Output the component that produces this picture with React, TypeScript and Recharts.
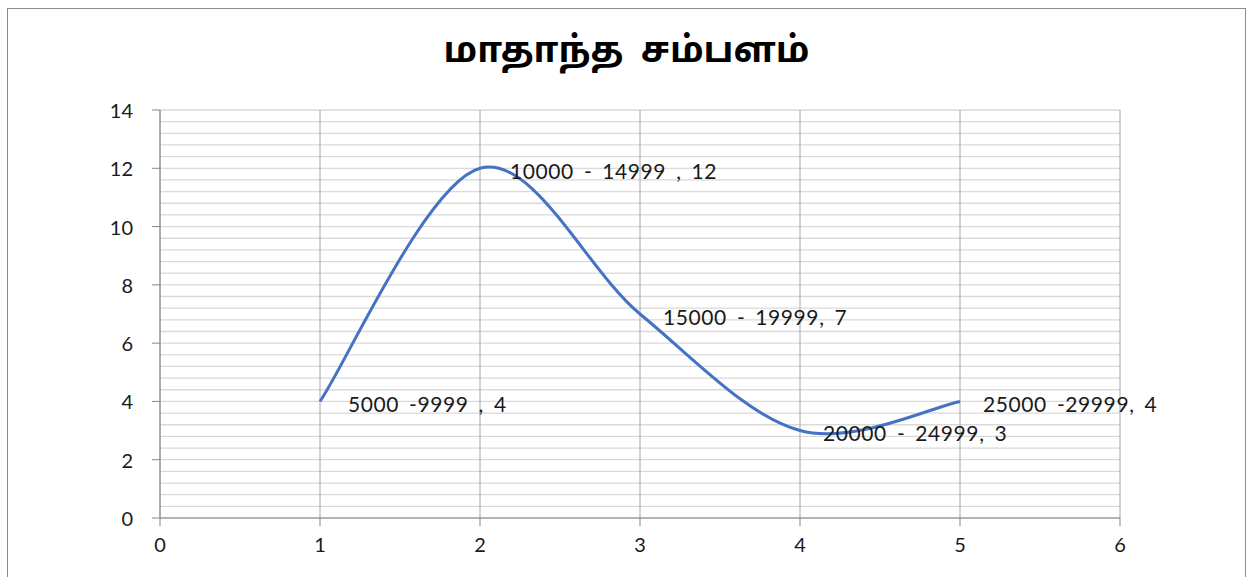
import { CartesianGrid, LabelList, Line, LineChart, XAxis, YAxis } from 'recharts'

// salary bands (labels) and number of people in each band
const bands = ['5000 -9999 ', '10000 - 14999 ', '15000 - 19999', '20000 - 24999', '25000 -29999']
const xs = [1, 2, 3, 4, 5]
const counts = [4, 12, 7, 3, 4]

const xTicks = [0, 1, 2, 3, 4, 5, 6]
const yTicks = [0, 2, 4, 6, 8, 10, 12, 14]
const minorTicks = [
  0, 0.4, 0.8, 1.2, 1.6, 2, 2.4, 2.8, 3.2, 3.6, 4, 4.4, 4.8, 5.2, 5.6, 6, 6.4, 6.8, 7.2, 7.6, 8, 8.4,
  8.8, 9.2, 9.6, 10, 10.4, 10.8, 11.2, 11.6, 12, 12.4, 12.8, 13.2, 13.6, 14,
]

const data = xs.map((x, i) => ({ x, count: counts[i], band: bands[i] }))

const font = 'Lato, "Open Sans", sans-serif'

// label offsets to the right of each point
const labelDx = [28, 30, 23, 23, 23]

// excel-style smoothed line (catmull-rom through the points)
const excelCurve = (context: any) => {
  let pts: number[][] = []
  return {
    areaStart() {},
    areaEnd() {},
    lineStart() {
      pts = []
    },
    point(x: number, y: number) {
      pts.push([+x, +y])
    },
    lineEnd() {
      const n = pts.length
      if (!n) return
      context.moveTo(pts[0][0], pts[0][1])
      for (let i = 0; i < n - 1; i++) {
        const p0 = pts[Math.max(i - 1, 0)]
        const p1 = pts[i]
        const p2 = pts[i + 1]
        const p3 = pts[Math.min(i + 2, n - 1)]
        context.bezierCurveTo(
          p1[0] + (p2[0] - p0[0]) / 6,
          p1[1] + (p2[1] - p0[1]) / 6,
          p2[0] - (p3[0] - p1[0]) / 6,
          p2[1] - (p3[1] - p1[1]) / 6,
          p2[0],
          p2[1],
        )
      }
    },
  }
}

function PointLabel(props: any) {
  const { x, y, index } = props
  const d = data[index]
  return (
    <text
      x={x + labelDx[index]}
      y={y + 2}
      dominantBaseline="central"
      fontSize={21}
      letterSpacing={0.6}
      wordSpacing={4}
      fontFamily={font}
      fill="#1a1a1a"
    >
      {`${d.band}, ${d.count}`}
    </text>
  )
}

function XTick(props: any) {
  const { x, y, payload } = props
  return (
    <text x={x} y={y + 2} textAnchor="middle" dominantBaseline="central" fontSize={20} fontFamily={font} fill="#1a1a1a">
      {payload.value}
    </text>
  )
}

function YTick(props: any) {
  const { x, y, payload } = props
  return (
    <text x={x} y={y} textAnchor="end" dominantBaseline="central" fontSize={20} fontFamily={font} fill="#1a1a1a">
      {payload.value}
    </text>
  )
}

function App() {
  return (
    <div
      style={{
        position: 'absolute',
        left: 7,
        top: 8,
        width: 1239,
        height: 580,
        boxSizing: 'border-box',
        border: '1.5px solid #8c8c8c',
        background: '#fff',
      }}
    >
      <div
        style={{
          position: 'absolute',
          top: 22,
          left: 0,
          width: '100%',
          textAlign: 'center',
          fontSize: 36,
          wordSpacing: 8,
          fontWeight: 'bold',
          fontFamily: '"Noto Sans Tamil", Latha, "Lohit Tamil", "Noto Sans", sans-serif',
          color: '#000',
        }}
      >
        மாதாந்த சம்பளம்
      </div>
      <LineChart
        width={1236}
        height={572}
        data={data}
        margin={{ top: 101, right: 124, bottom: 33, left: 112 }}
        style={{ fontFamily: font }}
      >
        <CartesianGrid
          vertical={false}
          stroke="#d9d9d9"
          strokeWidth={1.3}
          horizontalValues={minorTicks}
        />
        <CartesianGrid horizontal={false} stroke="#a6a6a6" />
        <XAxis
          dataKey="x"
          type="number"
          domain={[0, 6]}
          ticks={xTicks}
          interval={0}
          height={30}
          tickSize={8}
          tickMargin={16}
          stroke="#868686"
          tick={<XTick />}
        />
        <YAxis
          domain={[0, 14]}
          ticks={yTicks}
          interval={0}
          width={40}
          tickSize={8}
          tickMargin={19}
          stroke="#868686"
          tick={<YTick />}
        />
        <Line
          dataKey="count"
          type={excelCurve as any}
          stroke="#4472C4"
          strokeWidth={3}
          dot={false}
          activeDot={false}
          isAnimationActive={false}
        >
          <LabelList dataKey="count" content={<PointLabel />} />
        </Line>
      </LineChart>
    </div>
  )
}

export default App
